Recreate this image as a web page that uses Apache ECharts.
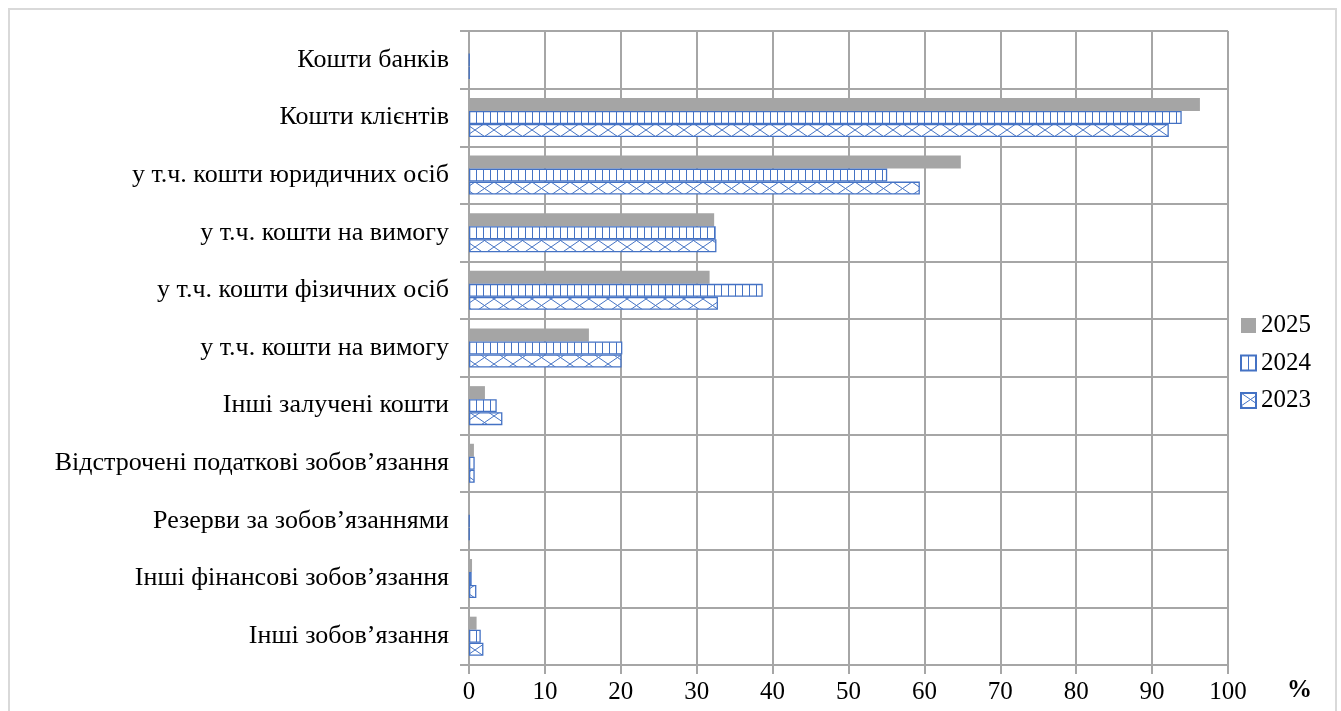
<!DOCTYPE html>
<html>
<head>
<meta charset="utf-8">
<script src="https://cdn.jsdelivr.net/npm/echarts@6/dist/echarts.min.js"></script>
<style>
html,body{margin:0;padding:0;background:#fff;}
#chart{width:1341px;height:711px;}
</style>
</head>
<body>
<div id="chart"></div>
<script>
const categories = [
  'Кошти банків',
  'Кошти клієнтів',
  'у т.ч. кошти юридичних осіб',
  'у т.ч. кошти на вимогу',
  'у т.ч. кошти фізичних осіб',
  'у т.ч. кошти на вимогу ',
  'Інші залучені кошти',
  'Відстрочені податкові зобов’язання',
  'Резерви за зобов’язаннями',
  'Інші фінансові зобов’язання',
  'Інші зобов’язання'
];
const seriesNames = ['2025', '2024', '2023'];
const values2025 = [0, 96.3, 64.8, 32.3, 31.7, 15.8, 2.1, 0.65, 0.03, 0.4, 1.0];
const values2024 = [0.06, 93.9, 55.1, 32.5, 38.7, 20.2, 3.65, 0.75, 0.06, 0.35, 1.55];
const values2023 = [0.06, 92.2, 59.4, 32.6, 32.8, 20.1, 4.4, 0.75, 0.06, 0.97, 1.9];
const xTicks = [0, 10, 20, 30, 40, 50, 60, 70, 80, 90, 100];

const BLUE = '#4472c4';
const GREY = '#a5a5a5';
const FONT = "'Liberation Serif', 'Times New Roman', serif";

function stripePattern() {
  const c = document.createElement('canvas');
  c.width = 7; c.height = 4;
  const ctx = c.getContext('2d');
  ctx.fillStyle = '#fff'; ctx.fillRect(0, 0, 7, 4);
  ctx.fillStyle = BLUE; ctx.fillRect(0, 0, 1, 4);
  return c;
}
function crossPattern() {
  const w = 19, h = 13;
  const c = document.createElement('canvas');
  c.width = w; c.height = h;
  const ctx = c.getContext('2d');
  ctx.fillStyle = '#fff'; ctx.fillRect(0, 0, w, h);
  ctx.strokeStyle = BLUE; ctx.lineWidth = 1;
  ctx.beginPath();
  ctx.moveTo(0, 0); ctx.lineTo(w, h);
  ctx.moveTo(w, 0); ctx.lineTo(0, h);
  ctx.stroke();
  return c;
}

const chart = echarts.init(document.getElementById('chart'), null, {renderer: 'canvas'});
const barW = 13;
chart.setOption({
  animation: false,
  backgroundColor: '#fff',
  grid: {left: 469, top: 31, width: 759, height: 634, containLabel: false},
  legend: {
    orient: 'vertical',
    left: 1235, top: 308,
    icon: 'rect',
    itemWidth: 15, itemHeight: 15, itemGap: 12.5,
    textStyle: {fontFamily: FONT, fontSize: 25, color: '#000'},
    data: seriesNames
  },
  xAxis: {
    type: 'value', min: 0, max: 100, interval: 10,
    axisLine: {show: true, lineStyle: {color: '#a6a6a6', width: 2}},
    axisTick: {show: true, length: 9, lineStyle: {color: '#a6a6a6', width: 2}},
    splitLine: {show: true, lineStyle: {color: '#a6a6a6', width: 2}},
    axisLabel: {fontFamily: FONT, fontSize: 25, color: '#000', margin: 15},
    data: xTicks
  },
  yAxis: {
    type: 'category', inverse: true, data: categories,
    axisLine: {show: true, lineStyle: {color: '#a6a6a6', width: 2}},
    axisTick: {show: true, length: 9, lineStyle: {color: '#a6a6a6', width: 2}},
    splitLine: {show: true, lineStyle: {color: '#a6a6a6', width: 2}},
    axisLabel: {fontFamily: FONT, fontSize: 26, color: '#000', margin: 20,
      formatter: function (v) { return v.trim(); }}
  },
  graphic: [
    {type: 'rect', shape: {x: 9, y: 9, width: 1327, height: 760}, style: {fill: 'none', stroke: '#d9d9d9', lineWidth: 2}, silent: true},
    {type: 'text', left: 1287, top: 678, style: {text: '%', fontFamily: FONT, fontSize: 25, fontWeight: 'bold', fill: '#000'}}
  ],
  series: [
    {name: seriesNames[0], type: 'bar', data: values2025, barWidth: barW, barGap: '0%',
     itemStyle: {color: GREY}},
    {name: seriesNames[1], type: 'bar', data: values2024, barWidth: barW, barGap: '0%',
     itemStyle: {color: {image: stripePattern(), repeat: 'repeat'}, borderColor: BLUE, borderWidth: 1.3}},
    {name: seriesNames[2], type: 'bar', data: values2023, barWidth: barW, barGap: '0%',
     itemStyle: {color: {image: crossPattern(), repeat: 'repeat'}, borderColor: BLUE, borderWidth: 1.3}}
  ]
});
</script>
</body>
</html>
